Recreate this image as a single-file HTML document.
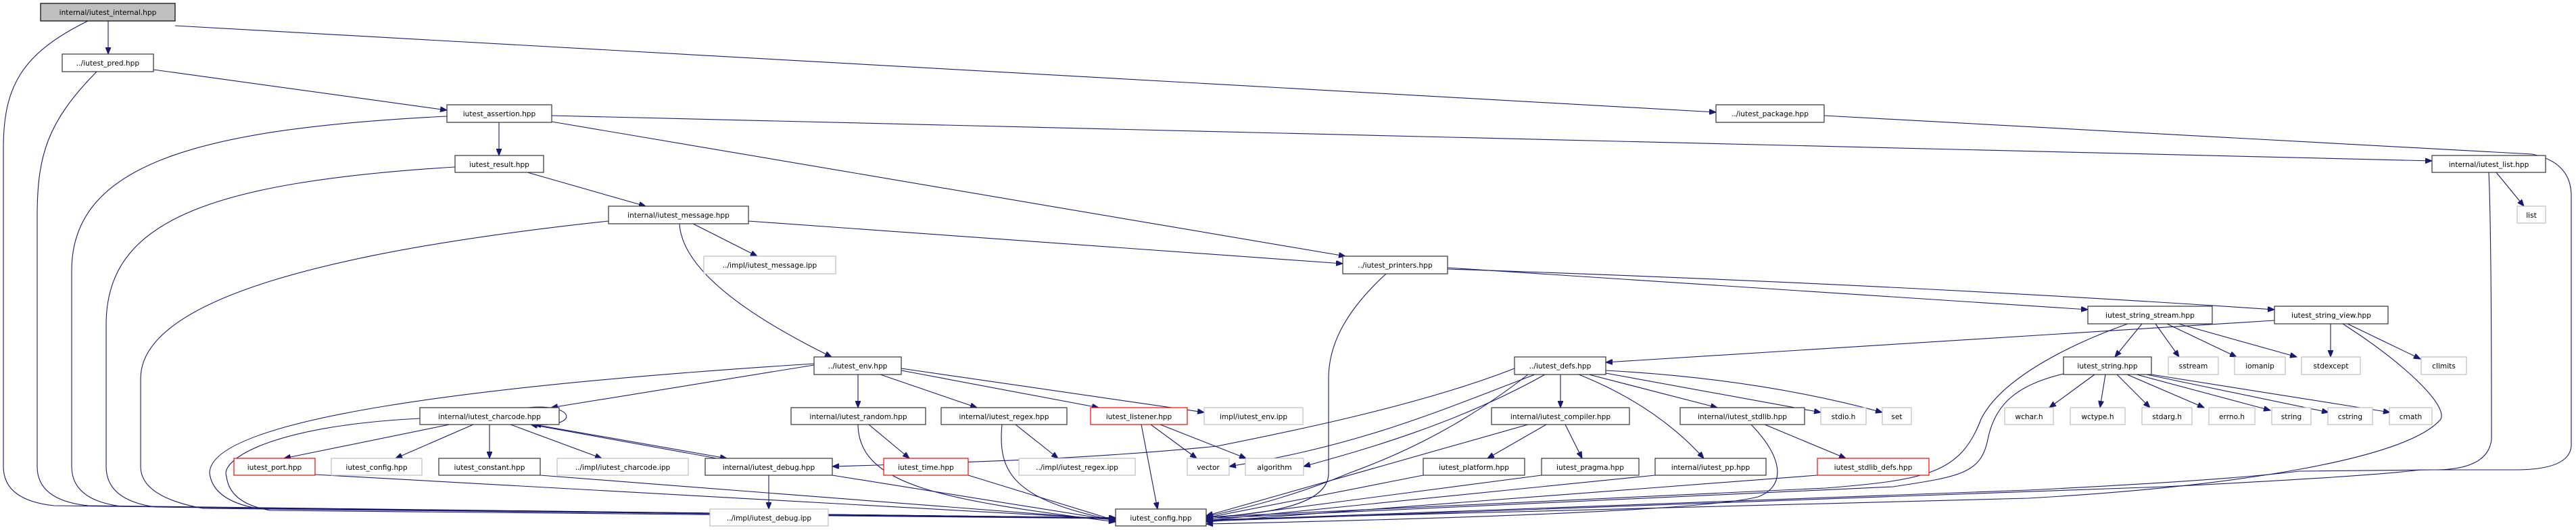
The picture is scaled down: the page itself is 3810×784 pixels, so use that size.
<!DOCTYPE html>
<html><head><meta charset="utf-8"><style>
html,body{margin:0;padding:0;background:#fff;}
svg{display:block;}
text{font-family:"DejaVu Sans","Liberation Sans",sans-serif;font-size:10.6px;fill:#000;text-anchor:middle;}
.e{fill:none;stroke:#191970;stroke-width:1.1;marker-end:url(#a);}
.n{fill:#fff;stroke:#333;stroke-width:1.2;}
.g{fill:#fff;stroke:#bfbfbf;stroke-width:1.2;}
.r{fill:#fff;stroke:#ff0000;stroke-width:1.2;}
.root{fill:#bfbfbf;stroke:#000;stroke-width:1.2;}
</style></head><body>
<svg width="3810" height="784" viewBox="0 0 3810 784" xmlns="http://www.w3.org/2000/svg">
<defs><marker id="a" markerUnits="userSpaceOnUse" markerWidth="11" markerHeight="8" refX="10" refY="4" orient="auto"><path d="M0,0 L10,4 L0,8 z" fill="#191970" stroke="#191970"/></marker></defs>
<g>
<path class="e" d="M130,31 C30,80 5,130 5,220 L5,690 Q5,740 80,748 L1650,766"/>
<path class="e" d="M143,106 C70,180 55,230 55,320 L55,690 Q55,740 130,748 L1650,766"/>
<path class="e" d="M661,172 C300,190 106,240 106,400 L106,690 Q106,740 180,749 L1650,766"/>
<path class="e" d="M673,247 C300,270 157,330 157,480 L157,690 Q157,740 230,750 L1650,766"/>
<path class="e" d="M900,327 C500,370 208,440 208,560 L208,690 Q208,735 300,752 L1650,766"/>
<path class="e" d="M1204,538 C700,570 310,620 310,700 Q315,740 380,752 L1650,767"/>
<path class="e" d="M621,619 C400,630 325,680 335,705 Q340,745 400,755 L1650,767"/>
<path class="e" d="M466,702 L1650,768"/>
<path class="e" d="M799,703 L1650,769"/>
<path class="e" d="M1231,703 L1650,770"/>
<path class="e" d="M1432,703 L1650,770"/>
<path class="e" d="M1269,628 C1270,720 1400,740 1650,772"/>
<path class="e" d="M1482,628 C1475,700 1500,740 1650,770"/>
<path class="e" d="M1688,628 L1712,753"/>
<path class="e" d="M2050,405 C1990,460 1965,510 1965,560 L1965,700 C1965,740 1900,760 1784,765"/>
<path class="e" d="M2240,545 C2100,600 1900,640 1800,660 C1600,680 1400,685 1231,690"/>
<path class="e" d="M2270,554 C2100,620 2000,660 1818,690"/>
<path class="e" d="M2285,554 C2150,630 2000,670 1928,690"/>
<path class="e" d="M2308,554 L2308,603"/>
<path class="e" d="M2335,554 Q2450,600 2520,678"/>
<path class="e" d="M2350,554 L2540,603"/>
<path class="e" d="M2375,552 L2693,610"/>
<path class="e" d="M2375,548 Q2600,560 2784,610"/>
<path class="e" d="M2260,554 C2150,640 2050,680 1995,700 Q1900,740 1784,764"/>
<path class="e" d="M2287,628 L2200,678"/>
<path class="e" d="M2315,628 L2340,678"/>
<path class="e" d="M2260,628 L1784,763"/>
<path class="e" d="M2610,628 L2730,678"/>
<path class="e" d="M2590,628 C2640,680 2640,720 2600,735 Q2500,760 1784,775"/>
<path class="e" d="M2105,703 L1784,766"/>
<path class="e" d="M2280,703 L1784,768"/>
<path class="e" d="M2448,703 L1784,770"/>
<path class="e" d="M2688,703 L1784,772"/>
<path class="e" d="M2141,396 L3088,458"/>
<path class="e" d="M2141,398 Q2800,420 3364,458"/>
<path class="e" d="M3364,474 L2375,536"/>
<path class="e" d="M3168,479 L3128,528"/>
<path class="e" d="M3188,479 L3223,528"/>
<path class="e" d="M3205,479 L3308,528"/>
<path class="e" d="M3222,479 L3397,528"/>
<path class="e" d="M3147,479 C3060,510 2960,560 2930,620 C2900,700 2850,710 2700,722 L1784,765"/>
<path class="e" d="M3052,553 C2980,570 2950,600 2940,650 C2930,700 2900,705 2800,720 L1784,767"/>
<path class="e" d="M3465,479 C3560,540 3620,600 3610,620 C3560,680 3300,720 3000,737 L1784,769"/>
<path class="e" d="M3447,479 L3447,528"/>
<path class="e" d="M3472,479 L3580,531"/>
<path class="e" d="M3098,554 L3031,603"/>
<path class="e" d="M3114,554 L3106,603"/>
<path class="e" d="M3131,554 L3180,603"/>
<path class="e" d="M3146,554 L3260,603"/>
<path class="e" d="M3160,554 L3358,607"/>
<path class="e" d="M3175,554 L3444,610"/>
<path class="e" d="M3182,554 L3535,610"/>
<path class="e" d="M3692,255 L3733,305"/>
<path class="e" d="M3681,255 C3685,340 3685,600 3685,650 Q3680,695 3600,695 L3400,697 Q3300,710 3000,725 L1784,770"/>
<path class="e" d="M2698,171 L3745,228 Q3803,240 3803,290 L3803,660 Q3800,695 3720,695 L3580,695 Q3500,705 3200,720 L1784,771"/>
<path class="e" d="M259,38 L2538,166"/>
<path class="e" d="M160,31 L160,80"/>
<path class="e" d="M227,103 L661,163"/>
<path class="e" d="M738,181 L738,230"/>
<path class="e" d="M816,171 L3597,238"/>
<path class="e" d="M816,180 L1990,379"/>
<path class="e" d="M780,255 L955,305"/>
<path class="e" d="M1107,327 L1986,390"/>
<path class="e" d="M1025,331 L1120,379"/>
<path class="e" d="M1005,331 Q1010,420 1230,528"/>
<path class="e" d="M1204,540 L815,603"/>
<path class="e" d="M1269,554 L1269,603"/>
<path class="e" d="M1302,554 L1445,603"/>
<path class="e" d="M1333,548 L1625,603"/>
<path class="e" d="M1333,545 L1781,610"/>
<path class="e" d="M780,603 C850,596 860,632 790,628"/>
<path class="e" d="M665,628 L420,678"/>
<path class="e" d="M700,628 L585,678"/>
<path class="e" d="M724,628 L724,678"/>
<path class="e" d="M755,628 L890,678"/>
<path class="e" d="M790,628 L1075,678"/>
<path class="e" d="M1060,678 L785,628"/>
<path class="e" d="M1137,703 L1137,753"/>
<path class="e" d="M1285,628 L1345,678"/>
<path class="e" d="M1502,628 L1565,678"/>
<path class="e" d="M1702,628 L1770,678"/>
<path class="e" d="M1716,628 L1843,678"/>
</g>
<g>
<rect class="root" x="60" y="5" width="199" height="26"/><text x="159.5" y="22">internal/iutest_internal.hpp</text>
<rect class="n" x="92" y="80" width="135" height="26"/><text x="159.5" y="97">../iutest_pred.hpp</text>
<rect class="n" x="661" y="155" width="155" height="26"/><text x="738.5" y="172">iutest_assertion.hpp</text>
<rect class="n" x="673" y="230" width="131" height="25"/><text x="738.5" y="247">iutest_result.hpp</text>
<rect class="n" x="900" y="305" width="207" height="26"/><text x="1003.5" y="322">internal/iutest_message.hpp</text>
<rect class="g" x="1041" y="379" width="195" height="26"/><text x="1138.5" y="396">../impl/iutest_message.ipp</text>
<rect class="n" x="1986" y="379" width="155" height="26"/><text x="2063.5" y="396">../iutest_printers.hpp</text>
<rect class="n" x="2538" y="155" width="160" height="26"/><text x="2618" y="172">../iutest_package.hpp</text>
<rect class="n" x="3597" y="230" width="168" height="25"/><text x="3681" y="247">internal/iutest_list.hpp</text>
<rect class="g" x="3723" y="305" width="42" height="25"/><text x="3744" y="322">list</text>
<rect class="n" x="1204" y="528" width="129" height="26"/><text x="1268.5" y="545">../iutest_env.hpp</text>
<rect class="n" x="2240" y="528" width="135" height="26"/><text x="2307.5" y="545">../iutest_defs.hpp</text>
<rect class="n" x="3088" y="453" width="184" height="26"/><text x="3180" y="470">iutest_string_stream.hpp</text>
<rect class="n" x="3364" y="453" width="168" height="26"/><text x="3448" y="470">iutest_string_view.hpp</text>
<rect class="n" x="3052" y="528" width="130" height="26"/><text x="3117" y="545">iutest_string.hpp</text>
<rect class="g" x="3207" y="528" width="74" height="26"/><text x="3244" y="545">sstream</text>
<rect class="g" x="3305" y="528" width="75" height="26"/><text x="3342.5" y="545">iomanip</text>
<rect class="g" x="3404" y="528" width="87" height="26"/><text x="3447.5" y="545">stdexcept</text>
<rect class="g" x="3581" y="528" width="67" height="26"/><text x="3614.5" y="545">climits</text>
<rect class="n" x="621" y="603" width="206" height="25"/><text x="724" y="620">internal/iutest_charcode.hpp</text>
<rect class="n" x="1170" y="603" width="199" height="25"/><text x="1269.5" y="620">internal/iutest_random.hpp</text>
<rect class="n" x="1392" y="603" width="186" height="25"/><text x="1485" y="620">internal/iutest_regex.hpp</text>
<rect class="r" x="1613" y="603" width="143" height="25"/><text x="1684.5" y="620">iutest_listener.hpp</text>
<rect class="g" x="1781" y="603" width="146" height="25"/><text x="1854" y="620">impl/iutest_env.ipp</text>
<rect class="n" x="2206" y="603" width="204" height="25"/><text x="2308" y="620">internal/iutest_compiler.hpp</text>
<rect class="n" x="2485" y="603" width="184" height="25"/><text x="2577" y="620">internal/iutest_stdlib.hpp</text>
<rect class="g" x="2693" y="603" width="67" height="25"/><text x="2726.5" y="620">stdio.h</text>
<rect class="g" x="2784" y="603" width="43" height="25"/><text x="2805.5" y="620">set</text>
<rect class="g" x="2965" y="603" width="72" height="25"/><text x="3001" y="620">wchar.h</text>
<rect class="g" x="3062" y="603" width="81" height="25"/><text x="3102.5" y="620">wctype.h</text>
<rect class="g" x="3168" y="603" width="74" height="25"/><text x="3205" y="620">stdarg.h</text>
<rect class="g" x="3267" y="603" width="68" height="25"/><text x="3301" y="620">errno.h</text>
<rect class="g" x="3360" y="603" width="58" height="25"/><text x="3389" y="620">string</text>
<rect class="g" x="3443" y="603" width="66" height="25"/><text x="3476" y="620">cstring</text>
<rect class="g" x="3534" y="603" width="63" height="25"/><text x="3565.5" y="620">cmath</text>
<rect class="r" x="346" y="678" width="120" height="25"/><text x="406" y="695">iutest_port.hpp</text>
<rect class="g" x="490" y="678" width="134" height="25"/><text x="557" y="695">iutest_config.hpp</text>
<rect class="n" x="649" y="678" width="150" height="25"/><text x="724" y="695">iutest_constant.hpp</text>
<rect class="g" x="824" y="678" width="194" height="25"/><text x="921" y="695">../impl/iutest_charcode.ipp</text>
<rect class="n" x="1043" y="678" width="188" height="25"/><text x="1137" y="695">internal/iutest_debug.hpp</text>
<rect class="r" x="1307" y="678" width="125" height="25"/><text x="1369.5" y="695">iutest_time.hpp</text>
<rect class="g" x="1507" y="678" width="172" height="25"/><text x="1593" y="695">../impl/iutest_regex.ipp</text>
<rect class="g" x="1756" y="678" width="62" height="25"/><text x="1787" y="695">vector</text>
<rect class="g" x="1842" y="678" width="86" height="25"/><text x="1885" y="695">algorithm</text>
<rect class="n" x="2105" y="678" width="150" height="25"/><text x="2180" y="695">iutest_platform.hpp</text>
<rect class="n" x="2280" y="678" width="144" height="25"/><text x="2352" y="695">iutest_pragma.hpp</text>
<rect class="n" x="2448" y="678" width="164" height="25"/><text x="2530" y="695">internal/iutest_pp.hpp</text>
<rect class="r" x="2688" y="678" width="165" height="25"/><text x="2770.5" y="695">iutest_stdlib_defs.hpp</text>
<rect class="g" x="1050" y="753" width="175" height="25"/><text x="1137.5" y="770">../impl/iutest_debug.ipp</text>
<rect class="n" x="1650" y="753" width="134" height="25"/><text x="1717" y="770">iutest_config.hpp</text>
</g>
</svg>
</body></html>
